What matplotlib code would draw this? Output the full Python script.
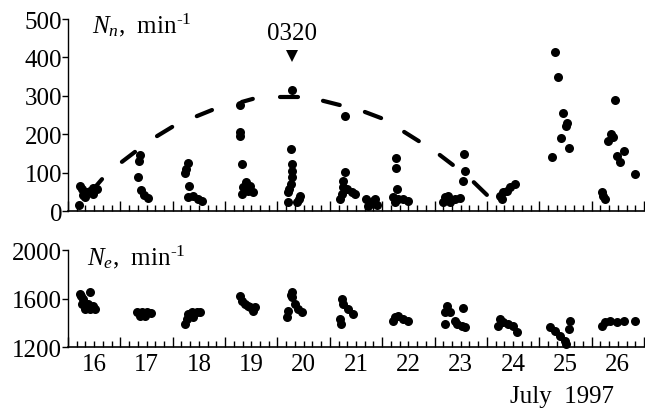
import numpy as np
import matplotlib
matplotlib.use('Agg')
import matplotlib.pyplot as plt

plt.rcParams['font.family'] = ['Liberation Serif', 'DejaVu Serif']
plt.rcParams['mathtext.fontset'] = 'custom'
plt.rcParams['mathtext.rm'] = 'Liberation Serif'
plt.rcParams['mathtext.it'] = 'Liberation Serif:italic'

# neutron count rate N_n (top panel), July 1997 day of month
nn_day = [16.21, 16.23, 16.26, 16.29, 16.34, 16.42, 16.48, 16.48, 16.55, 16.33,
          17.38, 17.36, 17.33, 17.40, 17.45, 17.52,
          18.29, 18.23, 18.25, 18.31, 18.29, 18.39, 18.48, 18.56,
          19.28, 19.28, 19.28, 19.32, 19.40, 19.35, 19.32, 19.44, 19.53, 19.48,
          20.27, 20.26, 20.28, 20.27, 20.27, 20.26, 20.22, 20.20, 20.20, 20.41, 20.44, 20.37,
          21.29, 21.29, 21.25, 21.25, 21.23, 21.19, 21.32, 21.42, 21.48,
          21.70, 21.77, 21.83, 21.90, 21.73, 21.86,
          22.26, 22.26, 22.29, 22.21, 22.31, 22.40, 22.50, 22.25,
          23.20, 23.26, 23.30, 23.39, 23.49, 23.17, 23.56, 23.59, 23.55,
          24.25, 24.28, 24.31, 24.38, 24.44, 24.54,
          25.31, 25.35, 25.45, 25.51, 25.53, 25.41, 25.56, 25.25,
          26.45, 26.37, 26.40, 26.32, 26.61, 26.48, 26.55, 26.83, 26.19, 26.26, 26.22]
nn_val = [16, 65, 57, 42, 49, 52, 44, 60, 57, 36,
          146, 130, 88, 55, 42, 34,
          125, 99, 110, 65, 36, 39, 31, 26,
          276, 205, 195, 122, 75, 62, 44, 52, 49, 65,
          315, 161, 122, 105, 88, 70, 57, 49, 24, 31, 40, 23,
          248, 101, 79, 62, 44, 31, 57, 49, 44,
          31, 18, 27, 16, 14, 31,
          137, 112, 57, 36, 31, 31, 27, 23,
          36, 40, 23, 31, 33, 23, 148, 105, 79,
          40, 31, 49, 53, 62, 70,
          413, 350, 254, 222, 230, 190, 163, 140,
          290, 200, 192, 183, 157, 144, 128, 96, 50, 31, 40]

# dashed envelope curve: start/end of each dash
fit_day = [16.32, 16.65, 17.03, 17.28, 17.70, 17.99, 18.46, 18.75, 19.32, 19.53, 20.05,
           20.39, 20.87, 21.19, 21.67, 21.98, 22.42, 22.70, 23.10, 23.35, 23.75, 24.00]
fit_val = [31, 83, 128, 154, 195, 219, 247, 263, 284, 292, 297,
           297, 287, 276, 258, 242, 206, 182, 146, 120, 75, 42]

# electron count rate N_e (bottom panel)
ne_day = [16.23, 16.42, 16.29, 16.26, 16.32, 16.42, 16.51, 16.48, 16.24, 16.39,
          17.31, 17.41, 17.50, 17.58, 17.38, 17.47,
          18.23, 18.27, 18.30, 18.36, 18.46, 18.52, 18.39,
          19.28, 19.32, 19.38, 19.48, 19.54, 19.43, 19.57,
          20.27, 20.27, 20.34, 20.40, 20.46, 20.21, 20.18, 20.25,
          21.23, 21.26, 21.35, 21.45, 21.19, 21.21,
          22.25, 22.31, 22.40, 22.50, 22.21,
          23.23, 23.20, 23.20, 23.30, 23.39, 23.52, 23.58, 23.55, 23.42,
          24.25, 24.31, 24.41, 24.50, 24.57, 24.22,
          25.21, 25.30, 25.40, 25.49, 25.52, 25.59, 25.56,
          26.19, 26.26, 26.35, 26.48, 26.61, 26.83]
ne_val = [1637, 1651, 1596, 1555, 1513, 1513, 1513, 1541, 1617, 1555,
          1486, 1491, 1486, 1478, 1458, 1453,
          1390, 1431, 1472, 1486, 1486, 1486, 1445,
          1623, 1582, 1555, 1527, 1499, 1541, 1527,
          1651, 1610, 1555, 1513, 1486, 1499, 1445, 1630,
          1596, 1555, 1513, 1472, 1431, 1390,
          1445, 1458, 1431, 1417, 1417,
          1541, 1486, 1390, 1486, 1417, 1376, 1362, 1519, 1390,
          1431, 1403, 1390, 1376, 1321, 1376,
          1362, 1334, 1293, 1252, 1225, 1417, 1348,
          1376, 1403, 1417, 1403, 1417, 1417]

day_labels = ['16', '17', '18', '19', '20', '21', '22', '23', '24', '25', '26']
event_day, event_val, event_label = 20.27, 404, '0320'

FS = 18

fig = plt.figure(figsize=(6.45, 4.10), dpi=100)
ax1 = fig.add_axes([0.1054, 0.4829, 0.893, 0.4683])
ax2 = fig.add_axes([0.1054, 0.1512, 0.893, 0.2366])


def style(ax, ylim, yticks):
    ax.set_xlim(16, 27)
    ax.set_ylim(*ylim)
    for s in ('top', 'right'):
        ax.spines[s].set_visible(False)
    ax.spines['left'].set_linewidth(1.0)
    ax.spines['bottom'].set_linewidth(1.2)
    ax.set_yticks(yticks)
    ax.tick_params(axis='y', direction='out', length=4, width=1.0, pad=0.3, labelsize=FS)
    ax.set_xticks(np.arange(16, 28))
    ax.set_xticks(np.arange(16, 27, 1 / 6), minor=True)
    ax.tick_params(axis='x', which='major', direction='in', length=7.5, width=1.0, labelbottom=False)
    ax.tick_params(axis='x', which='minor', direction='in', length=4, width=1.0)


style(ax1, (0, 500), [0, 100, 200, 300, 400, 500])
style(ax2, (1200, 2000), [1200, 1600, 2000])

for k in range(0, len(fit_day) - 1, 2):
    ax1.plot(fit_day[k:k + 2], fit_val[k:k + 2], color='k', lw=3, solid_capstyle='round')
ax1.plot(nn_day, nn_val, 'o', ms=6.5, color='k', mew=0, clip_on=False)
ax1.plot([event_day], [event_val], 'v', ms=9, color='k', mew=0, clip_on=False)
ax1.text(event_day, 463, event_label, ha='center', va='center', fontsize=FS)
ax1.text(0.042, 0.975, '$N_n$,  min$^{\u20101}$', transform=ax1.transAxes,
         ha='left', va='center', fontsize=FS)

ax2.plot(ne_day, ne_val, 'o', ms=6.5, color='k', mew=0, clip_on=False)
ax2.text(0.033, 0.94, '$N_e$,  min$^{\u20101}$', transform=ax2.transAxes,
         ha='left', va='center', fontsize=FS)

for i, lab in enumerate(day_labels):
    ax2.text(16.5 + i, -0.18, lab, transform=ax2.get_xaxis_transform(),
             ha='center', va='center', fontsize=FS)
ax2.text(25.43, -0.5, 'July  1997', transform=ax2.get_xaxis_transform(),
         ha='center', va='center', fontsize=FS)

fig.savefig('out.png', dpi=100)
